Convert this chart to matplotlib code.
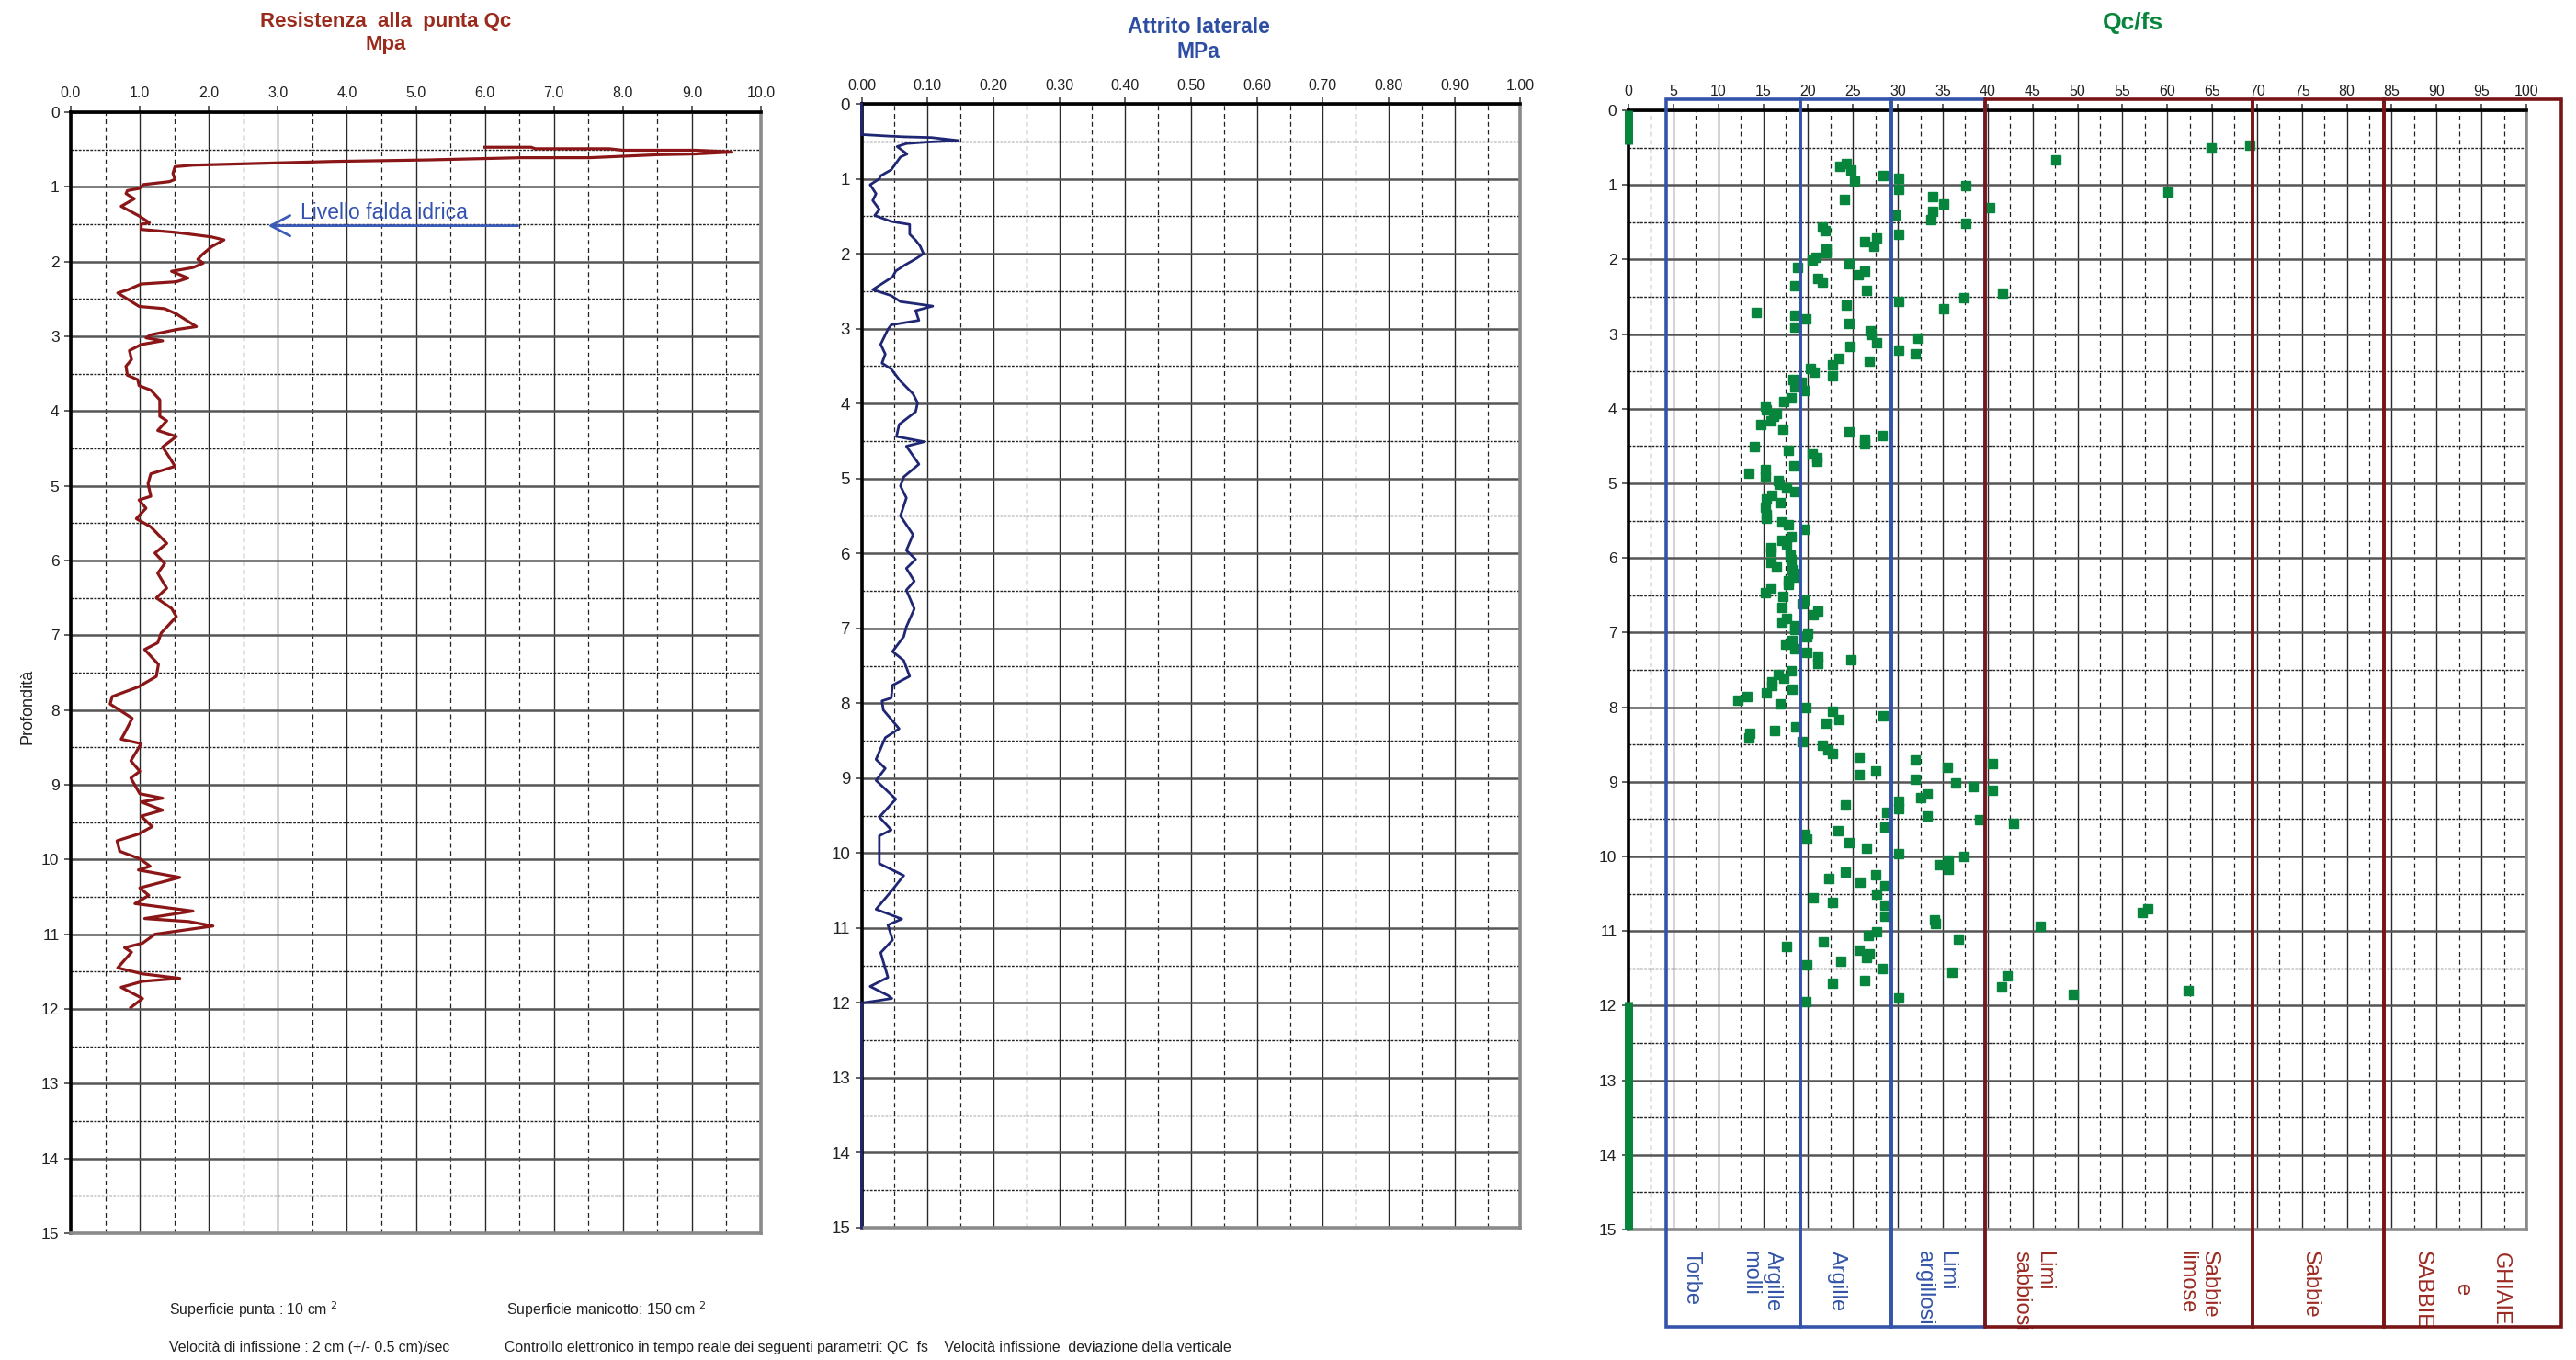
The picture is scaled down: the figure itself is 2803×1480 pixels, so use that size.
import numpy as np
import matplotlib
matplotlib.use("Agg")
import matplotlib.pyplot as plt
from matplotlib.patches import Rectangle
from matplotlib.font_manager import FontProperties

plt.rcParams['font.family'] = ['Liberation Sans Narrow', 'Liberation Sans', 'DejaVu Sans']

# ---- data read from the CPT log ----
# cone resistance Qc (MPa) and depth (m)
qc_values = [6.0, 6.67, 6.73, 7.8, 8.0, 9.05, 9.52, 9.58, 9.05, 8.5, 7.52, 6.53, 5.17, 3.8, 3.0, 1.77, 1.51,
             1.48, 1.51, 1.43, 1.05, 1.0, 0.82, 0.8, 0.92, 0.73, 0.99, 1.14, 1.02, 1.02, 1.53, 2.04, 2.22,
             2.04, 1.9, 1.84, 1.92, 1.77, 1.46, 1.7, 1.53, 1.02, 0.82, 0.68, 0.75, 0.99, 1.36, 1.53, 1.82,
             1.53, 1.16, 1.09, 1.33, 1.02, 0.85, 0.88, 0.8, 0.82, 0.97, 0.99, 1.16, 1.29, 1.29, 1.39, 1.26,
             1.53, 1.33, 1.43, 1.51, 1.16, 1.12, 1.16, 0.99, 1.09, 0.95, 1.16, 1.39, 1.22, 1.36, 1.26, 1.39,
             1.24, 1.46, 1.53, 1.31, 1.26, 1.07, 1.27, 1.24, 0.98, 0.6, 0.57, 0.89, 0.78, 0.73, 1.02, 0.87,
             1.0, 0.87, 1.0, 1.33, 1.02, 1.33, 1.02, 1.18, 0.98, 0.67, 0.71, 1.0, 1.15, 0.98, 1.58, 1.0,
             1.13, 0.93, 1.77, 1.07, 1.71, 2.06, 1.22, 1.04, 0.78, 0.88, 0.68, 1.04, 1.58, 1.04, 0.73, 1.04,
             0.87]
qc_depth = [0.47, 0.47, 0.49, 0.49, 0.51, 0.51, 0.53, 0.535, 0.56, 0.57, 0.61, 0.61, 0.64, 0.66, 0.68, 0.71, 0.73,
            0.82, 0.9, 0.93, 0.97, 1.02, 1.05, 1.09, 1.16, 1.26, 1.39, 1.48, 1.5, 1.57, 1.61, 1.67, 1.71,
            1.8, 1.91, 1.97, 2.02, 2.08, 2.13, 2.22, 2.27, 2.3, 2.38, 2.42, 2.46, 2.6, 2.63, 2.7, 2.87,
            2.91, 2.98, 3.02, 3.06, 3.11, 3.19, 3.31, 3.4, 3.52, 3.58, 3.66, 3.72, 3.85, 4.07, 4.13, 4.26,
            4.34, 4.48, 4.62, 4.74, 4.84, 4.97, 5.14, 5.19, 5.3, 5.44, 5.55, 5.77, 5.9, 6.04, 6.17, 6.37,
            6.5, 6.64, 6.75, 6.97, 7.1, 7.19, 7.39, 7.55, 7.69, 7.82, 7.92, 8.11, 8.31, 8.39, 8.45, 8.68,
            8.82, 8.91, 9.12, 9.18, 9.23, 9.34, 9.42, 9.56, 9.66, 9.75, 9.89, 9.99, 10.09, 10.14, 10.24, 10.38,
            10.48, 10.59, 10.69, 10.79, 10.83, 10.89, 11.0, 11.12, 11.18, 11.24, 11.45, 11.53, 11.59, 11.63, 11.71, 11.86,
            11.98]

# sleeve friction fs (MPa) and depth (m)
fs_values = [0, 0, 0.04, 0.064, 0.106, 0.147, 0.10, 0.068, 0.054, 0.069, 0.059, 0.045, 0.029, 0.027, 0.013,
             0.022, 0.017, 0.027, 0.02, 0.045, 0.073, 0.073, 0.082, 0.089, 0.094, 0.082, 0.066, 0.052, 0.047,
             0.017, 0.045, 0.059, 0.108, 0.082, 0.087, 0.045, 0.04, 0.029, 0.036, 0.031, 0.045, 0.059, 0.078,
             0.085, 0.082, 0.057, 0.053, 0.095, 0.068, 0.087, 0.064, 0.059, 0.068, 0.059, 0.078, 0.068, 0.082,
             0.068, 0.08, 0.068, 0.08, 0.068, 0.064, 0.047, 0.064, 0.073, 0.047, 0.045, 0.031, 0.033, 0.057,
             0.036, 0.022, 0.036, 0.022, 0.052, 0.027, 0.045, 0.027, 0.027, 0.064, 0.045, 0.022, 0.061, 0.04,
             0.047, 0.029, 0.04, 0.013, 0.04, 0.046, 0.017, 0, 0]
fs_depth = [0, 0.41, 0.43, 0.44, 0.45, 0.49, 0.51, 0.53, 0.57, 0.67, 0.71, 0.88, 0.96, 1.0, 1.08,
            1.2, 1.29, 1.41, 1.49, 1.57, 1.61, 1.74, 1.82, 1.9, 2.0, 2.07, 2.15, 2.23, 2.31,
            2.48, 2.56, 2.64, 2.7, 2.76, 2.89, 2.95, 3.01, 3.21, 3.34, 3.46, 3.54, 3.7, 3.87,
            3.99, 4.11, 4.28, 4.44, 4.51, 4.57, 4.81, 4.98, 5.1, 5.26, 5.5, 5.75, 5.96, 6.08,
            6.2, 6.37, 6.49, 6.74, 6.98, 7.11, 7.31, 7.43, 7.64, 7.76, 7.93, 7.97, 8.09, 8.34,
            8.46, 8.75, 8.87, 9.03, 9.28, 9.52, 9.69, 9.77, 10.14, 10.3, 10.51, 10.75, 10.88, 10.96,
            11.16, 11.33, 11.66, 11.78, 11.9, 11.94, 11.98, 12.0, 15.0]

# Qc/fs ratio and depth (m)
ratio_values = [64.9, 69.2, 47.6, 23.5, 24.3, 24.8, 25.2, 28.4, 30.1, 30.1, 37.6, 60.1, 24.1, 33.9, 35.1,
                40.2, 33.9, 29.7, 33.7, 37.6, 21.6, 21.9, 30.1, 26.3, 27.6, 27.3, 22.0, 22.0, 20.9, 20.5,
                24.6, 18.8, 26.3, 25.6, 21.1, 21.6, 18.5, 26.5, 41.7, 37.4, 30.1, 24.3, 35.1, 14.2, 18.5,
                19.8, 24.6, 18.5, 26.9, 27.0, 32.2, 27.6, 24.7, 30.1, 31.9, 23.4, 26.8, 22.7, 20.3, 20.7,
                22.7, 18.3, 19.2, 18.5, 19.6, 18.1, 17.3, 15.2, 15.4, 16.5, 16.2, 15.9, 14.7, 17.2, 24.6,
                28.3, 26.3, 26.3, 14.0, 17.8, 20.5, 21.0, 21.0, 18.4, 15.2, 13.4, 15.2, 16.7, 16.8, 17.6,
                18.5, 16.0, 15.4, 16.9, 15.3, 15.4, 15.4, 17.1, 17.8, 19.6, 18.1, 17.1, 17.6, 15.9, 15.9,
                18.0, 18.1, 15.9, 16.5, 18.2, 18.3, 18.6, 17.8, 17.8, 15.9, 15.2, 17.2, 19.6, 19.3, 17.1,
                21.1, 20.6, 17.6, 17.1, 18.5, 18.5, 20.0, 19.9, 18.2, 17.5, 18.5, 19.9, 21.1, 21.1, 24.8,
                18.1, 16.7, 17.3, 16.0, 16.0, 18.2, 15.4, 13.2, 12.2, 16.9, 19.8, 22.7, 28.4, 23.4, 22.0,
                13.5, 16.3, 18.6, 13.4, 19.3, 21.6, 22.2, 22.7, 25.7, 31.9, 35.5, 40.5, 27.5, 25.7, 31.9,
                36.4, 38.4, 40.5, 33.3, 32.5, 24.2, 30.1, 30.1, 28.8, 33.3, 39.1, 42.9, 28.6, 23.3, 19.7,
                19.9, 24.6, 26.5, 30.1, 37.4, 35.6, 34.6, 35.6, 24.2, 27.5, 22.3, 25.8, 28.6, 27.6, 20.6,
                22.7, 28.6, 57.8, 57.2, 28.6, 34.1, 34.2, 45.9, 27.6, 26.7, 36.7, 21.7, 17.6, 25.7, 26.8,
                26.5, 23.6, 19.9, 28.3, 36.0, 42.2, 26.3, 22.7, 41.6, 62.3, 49.5, 30.1, 19.8]
ratio_depth = [0.51, 0.47, 0.66, 0.75, 0.71, 0.80, 0.95, 0.87, 0.91, 1.06, 1.01, 1.10, 1.20, 1.16, 1.26,
               1.31, 1.36, 1.40, 1.47, 1.52, 1.56, 1.61, 1.66, 1.76, 1.71, 1.82, 1.86, 1.91, 1.97, 2.01,
               2.06, 2.11, 2.16, 2.21, 2.25, 2.30, 2.35, 2.41, 2.45, 2.51, 2.56, 2.61, 2.66, 2.71, 2.75,
               2.80, 2.86, 2.91, 2.96, 3.01, 3.06, 3.11, 3.17, 3.21, 3.26, 3.32, 3.36, 3.41, 3.46, 3.51,
               3.56, 3.61, 3.65, 3.71, 3.76, 3.86, 3.91, 3.97, 4.02, 4.06, 4.10, 4.16, 4.21, 4.27, 4.31,
               4.36, 4.41, 4.47, 4.51, 4.56, 4.61, 4.71, 4.66, 4.76, 4.81, 4.86, 4.91, 4.96, 5.01, 5.06,
               5.11, 5.16, 5.21, 5.26, 5.32, 5.42, 5.47, 5.52, 5.56, 5.61, 5.71, 5.76, 5.81, 5.86, 5.91,
               5.96, 6.02, 6.06, 6.12, 6.16, 6.21, 6.26, 6.31, 6.36, 6.41, 6.46, 6.51, 6.56, 6.61, 6.66,
               6.71, 6.76, 6.81, 6.86, 6.91, 6.96, 7.01, 7.06, 7.11, 7.16, 7.22, 7.26, 7.32, 7.41, 7.37,
               7.51, 7.56, 7.61, 7.66, 7.71, 7.76, 7.81, 7.86, 7.91, 7.96, 8.00, 8.06, 8.11, 8.16, 8.21,
               8.35, 8.31, 8.26, 8.41, 8.46, 8.51, 8.57, 8.62, 8.67, 8.71, 8.81, 8.76, 8.85, 8.91, 8.96,
               9.01, 9.06, 9.11, 9.16, 9.21, 9.31, 9.26, 9.36, 9.41, 9.46, 9.51, 9.56, 9.61, 9.66, 9.70,
               9.76, 9.81, 9.89, 9.96, 10.0, 10.05, 10.11, 10.17, 10.21, 10.25, 10.30, 10.35, 10.40, 10.51, 10.55,
               10.61, 10.65, 10.70, 10.75, 10.80, 10.85, 10.90, 10.94, 11.01, 11.06, 11.11, 11.15, 11.21, 11.25, 11.31,
               11.36, 11.40, 11.45, 11.50, 11.55, 11.60, 11.66, 11.70, 11.75, 11.80, 11.85, 11.90, 11.94]

# depth ranges where Qc/fs is zero (drawn on the axis)
zero_ratio_top = [0.0, 11.94]
zero_ratio_bottom = [0.46, 15.0]

# soil classification boxes (Qc/fs limits) and labels
soil_bounds = [4.2, 19.1, 29.3, 39.7, 69.5, 84.1, 103.9]
soil_labels = ["Torbe", "Argille\nmolli", "Argille", "Limi\nargillosi",
               "Limi\nsabbiosi", "Sabbie\nlimose", "Sabbie", "GHIAIE\ne\nSABBIE"]
soil_label_x = [7.0, 14.8, 23.2, 34.2, 45.0, 63.4, 75.9, 92.8]

BLUE = '#3354a8'
RED = '#7a1517'
RED_TXT = '#9c2b22'
GREEN = '#07853c'

W, H = 2803, 1480
fig = plt.figure(figsize=(W / 100, H / 100), dpi=100)


def panel(x0, x1, ytop, ybot):
    return fig.add_axes([x0 / W, 1 - ybot / H, (x1 - x0) / W, (ybot - ytop) / H])


def style(ax, xmax, step, fmt, ylab_font):
    ax.set_xlim(0, xmax)
    ax.set_ylim(15, 0)
    ax.xaxis.tick_top()
    major = np.arange(0, xmax + step / 2, step)
    ax.set_xticks(major)
    ax.set_xticklabels([fmt.format(v) for v in major])
    ax.set_xticks(major[:-1] + step / 2, minor=True)
    ax.set_yticks(range(16))
    ax.set_yticks(np.arange(0.5, 15, 1), minor=True)
    ax.grid(which='major', axis='x', color='#2a2a2a', lw=1.0)
    ax.grid(which='major', axis='y', color='#555555', lw=1.8)
    ax.grid(which='minor', axis='x', color='#222222', lw=0.9, ls=(0, (4, 3)))
    ax.grid(which='minor', axis='y', color='#222222', lw=1.0, ls=(0, (2, 1)))
    ax.set_axisbelow(True)
    ax.tick_params(which='minor', length=0)
    ax.tick_params(which='major', length=5, width=1.2, color='#444444', direction='out',
                   labelcolor='#222222', labelsize=11.5, pad=4)
    for lab in ax.get_yticklabels():
        lab.set_fontproperties(ylab_font)
    for s in ['top', 'left']:
        ax.spines[s].set_color('black')
        ax.spines[s].set_linewidth(2.6)
    for s in ['right', 'bottom']:
        ax.spines[s].set_color('#8a8a8a')
        ax.spines[s].set_linewidth(2.6)


narrow = {'family': ['Liberation Sans Narrow', 'Liberation Sans'], 'size': 12.5}
regular = {'family': ['Liberation Sans', 'DejaVu Sans'], 'size': 13.5}

# ---- left: cone resistance ----
ax1 = panel(77, 828, 122, 1342)
style(ax1, 10, 1.0, '{:.1f}', FontProperties(**narrow))
ax1.plot(qc_values, qc_depth, color='#8b1617', lw=2.3, zorder=3)
ax1.annotate('', xy=(2.86, 1.52), xytext=(6.48, 1.52),
             arrowprops=dict(arrowstyle='->,head_length=0.75,head_width=0.4', color='#3a5cb8',
                             lw=2.0, mutation_scale=20, shrinkA=0, shrinkB=0))
ax1.text(3.33, 1.43, 'Livello falda idrica', color='#3352b0', fontsize=16.5,
         family=['Liberation Sans', 'DejaVu Sans'], ha='left', va='baseline')

# ---- middle: sleeve friction ----
ax2 = panel(937.5, 1654.5, 113, 1336)
style(ax2, 1.0, 0.1, '{:.2f}', FontProperties(**regular))
ax2.plot(fs_values, fs_depth, color='#1f2775', lw=2.0, zorder=3, clip_on=False)

# ---- right: Qc/fs ----
ax3 = panel(1772, 2749, 120, 1338)
style(ax3, 100, 5, '{:.0f}', FontProperties(**narrow))
ax3.plot(ratio_values, ratio_depth, ls='none', marker='s', ms=7, color=GREEN, zorder=4)
ax3.vlines([0, 0], zero_ratio_top, zero_ratio_bottom, color=GREEN, lw=6.5, zorder=6, clip_on=False)

for i in range(len(soil_bounds) - 1):
    col = BLUE if i < 3 else RED
    ax3.add_patch(Rectangle((soil_bounds[i], -0.15), soil_bounds[i + 1] - soil_bounds[i], 16.45,
                            fill=False, ec=col, lw=2.6, clip_on=False, zorder=7))
for i, (lab, x) in enumerate(zip(soil_labels, soil_label_x)):
    col = BLUE if i < 4 else RED_TXT
    last = i == len(soil_labels) - 1
    ax3.text(x, 15.28, lab, rotation=270, ha='center', va='top', color=col, fontsize=17,
             family=['Liberation Sans', 'DejaVu Sans'],
             multialignment='center' if last else 'left',
             linespacing=2.2 if last else 1.15, clip_on=False)

# ---- titles and notes ----
title_font = ['Liberation Sans Narrow', 'Liberation Sans', 'DejaVu Sans']
fig.text(420 / W, 1 - 36 / H, 'Resistenza  alla  punta Qc\nMpa', ha='center', va='center',
         color='#9a2a1c', fontsize=16, fontweight='bold', family=title_font)
fig.text(1304 / W, 1 - 43 / H, 'Attrito laterale\nMPa', ha='center', va='center',
         color='#2e4ea3', fontsize=16.5, fontweight='bold', family=title_font)
fig.text(2321 / W, 1 - 25 / H, 'Qc/fs', ha='center', va='center',
         color=GREEN, fontsize=19, fontweight='bold', family=title_font)
fig.text(30 / W, 1 - 769 / H, 'Profondità', rotation=90, ha='center', va='center',
         fontsize=13, family=['Liberation Sans', 'DejaVu Sans'], color='#222222')

note = dict(fontsize=11.4, va='center', ha='left', color='#222222', family=title_font)
fig.text(184 / W, 1 - 1425 / H, 'Superficie punta : 10 cm $^{2}$', **note)
fig.text(551 / W, 1 - 1425 / H, 'Superficie manicotto: 150 cm $^{2}$', **note)
fig.text(184 / W, 1 - 1466 / H, 'Velocità di infissione : 2 cm (+/- 0.5 cm)/sec', **note)
fig.text(549 / W, 1 - 1466 / H,
         'Controllo elettronico in tempo reale dei seguenti parametri: QC  fs    '
         'Velocità infissione  deviazione della verticale', **note)

fig.savefig('out.png', dpi=100)
